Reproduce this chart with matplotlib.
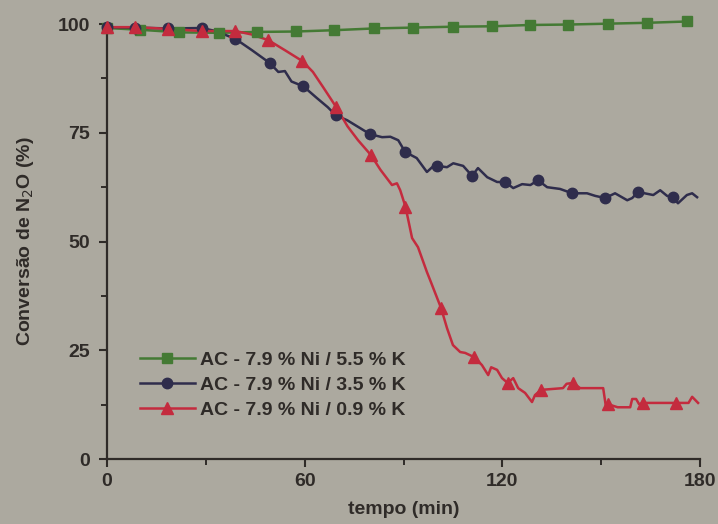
import numpy as np
import matplotlib
matplotlib.use("Agg")
import matplotlib.pyplot as plt
from matplotlib.ticker import MultipleLocator

# N2O conversion over time for three K loadings (AC - 7.9 % Ni)
labels = [
    "AC - 7.9 % Ni / 5.5 % K",
    "AC - 7.9 % Ni / 3.5 % K",
    "AC - 7.9 % Ni / 0.9 % K",
]

t_k55 = [0, 10, 22, 34, 45.5, 57.5, 69, 81, 93, 105, 117, 128.5, 140, 152, 164, 176]
conv_k55 = [99.1, 98.7, 98.1, 98.0, 98.2, 98.3, 98.6, 99.0, 99.2, 99.4, 99.5,
            99.8, 99.9, 100.1, 100.3, 100.6]

t_k35 = [0, 8.5, 18.6, 28.8, 33, 39, 44, 49.5, 52, 54, 56, 59.6, 63.7, 67, 69.5,
         72.9, 76.8, 79.8, 83.5, 86, 88.4, 90.5, 94, 97.1, 98.7, 100.2, 103.2,
         105.1, 108.1, 110.8, 112.6, 115.4, 118.4, 120.8, 123.3, 126, 128.5,
         130.8, 133.6, 137.5, 141.2, 145.7, 148.2, 151.2, 154.2, 157.9, 159.4,
         161.2, 165.8, 167.9, 170, 171.8, 173.3, 176, 177.6, 179.1]
conv_k35 = [99.3, 99.2, 99.0, 99.1, 98.4, 96.6, 94.0, 91.0, 89.0, 89.2, 86.8,
            85.7, 83.0, 80.9, 79.0, 77.9, 76.1, 74.7, 74.0, 74.1, 73.3, 70.6,
            69.2, 66.0, 67.1, 67.4, 67.1, 68.0, 67.4, 65.1, 66.9, 64.8, 63.7,
            63.7, 62.3, 63.2, 63.0, 64.1, 62.5, 62.1, 61.1, 61.1, 60.5, 60.0,
            61.1, 59.5, 60.0, 61.4, 60.7, 61.8, 60.5, 60.2, 58.8, 60.7, 61.1, 60.2]
marks_k35 = [0, 8.5, 18.6, 28.8, 39, 49.5, 59.6, 69.5, 79.8, 90.5, 100.2, 110.8,
             120.8, 130.8, 141.2, 151.2, 161.2, 171.8]

t_k09 = [0, 8.5, 18.6, 28.8, 39, 44, 49, 54, 59.3, 62.5, 65.6, 69.5, 73, 76.2,
         80.1, 83, 86.5, 88, 89, 90.6, 92.6, 94.4, 97.1, 98.1, 101.4, 103.2, 105,
         107.2, 108.7, 111.5, 113.8, 115.7, 116.6, 118.4, 119.9, 121.6, 123.3,
         124.8, 126.9, 129, 129.9, 131.7, 138.4, 139.5, 141.5, 143.6, 150.6,
         151.4, 152.1, 155, 158.8, 159.4, 160.6, 161.5, 162.7, 172.7, 176.5,
         177.6, 179.4]
conv_k09 = [99.3, 99.3, 98.9, 98.4, 98.4, 97.6, 96.3, 94.0, 91.5, 89.0, 85.5,
            81.0, 76.5, 73.3, 69.9, 66.5, 63.0, 63.4, 61.8, 58.0, 50.8, 48.7,
            43.0, 41.1, 34.7, 30.1, 26.2, 24.6, 24.4, 23.4, 21.6, 19.3, 21.1,
            20.5, 18.6, 17.5, 18.6, 16.3, 15.2, 13.1, 14.7, 15.9, 16.3, 17.3,
            17.5, 16.3, 16.3, 12.2, 12.6, 11.9, 11.9, 13.8, 13.8, 12.6, 12.9,
            12.9, 12.9, 14.3, 12.9]
marks_k09 = [0, 8.5, 18.6, 28.8, 39, 49, 59.3, 69.5, 80.1, 90.6, 101.4, 111.5,
             121.6, 131.7, 141.5, 152.1, 162.7, 172.7]

BG = "#aca99f"
INK = "#2f2b28"
GREEN = "#447a34"
NAVY = "#2f2d4c"
RED = "#c42b3e"


def plot_series(ax, t, conv, marks, color, marker, ms, label):
    t = np.asarray(t)
    conv = np.asarray(conv)
    if marks is None:
        mask = np.ones(len(t), dtype=bool)
    else:
        mask = np.isin(t, marks)
    ax.plot(t, conv, color=color, lw=1.8, clip_on=False, zorder=3)
    ax.plot(t[mask], conv[mask], ls="none", marker=marker, ms=ms, color=color,
            clip_on=False, zorder=4)
    # proxy artist so the legend shows line + single marker
    ax.plot([], [], color=color, lw=1.8, marker=marker, ms=ms, label=label)


plt.rcParams["font.family"] = ["Liberation Sans", "DejaVu Sans"]

fig = plt.figure(figsize=(7.18, 5.24), dpi=100, facecolor=BG)
ax = fig.add_axes([0.149, 0.124, 0.826, 0.830], facecolor=BG)

plot_series(ax, t_k55, conv_k55, None, GREEN, "s", 7, labels[0])
plot_series(ax, t_k35, conv_k35, marks_k35, NAVY, "o", 7.5, labels[1])
plot_series(ax, t_k09, conv_k09, marks_k09, RED, "^", 8.5, labels[2])

ax.set_xlim(0, 180)
ax.set_ylim(0, 100)
ax.xaxis.set_major_locator(MultipleLocator(60))
ax.xaxis.set_minor_locator(MultipleLocator(30))
ax.yaxis.set_major_locator(MultipleLocator(25))
ax.yaxis.set_minor_locator(MultipleLocator(12.5))

for side in ("top", "right"):
    ax.spines[side].set_visible(False)
for side in ("left", "bottom"):
    ax.spines[side].set_color(INK)
    ax.spines[side].set_linewidth(1.6)

ax.tick_params(which="major", direction="out", length=6, width=1.5,
               colors=INK, labelsize=14, pad=4)
ax.tick_params(which="minor", direction="out", length=4, width=1.4, colors=INK)
for lab in ax.get_xticklabels() + ax.get_yticklabels():
    lab.set_fontweight("bold")
ax.tick_params(axis="y", pad=6)

ax.set_xlabel("tempo (min)", fontsize=14, fontweight="bold", color=INK, labelpad=8)
ax.set_ylabel("Conversão de N$_2$O (%)", fontsize=14, fontweight="bold",
              color=INK, labelpad=16)

leg = ax.legend(loc="upper left", bbox_to_anchor=(0.056, 0.247), frameon=False,
                handlelength=2.8, handletextpad=0.3,
                labelspacing=0.38, borderpad=0, borderaxespad=0, labelcolor=INK,
                prop={"weight": "bold", "size": 14})

fig.savefig("out.png", dpi=100, facecolor=BG)
